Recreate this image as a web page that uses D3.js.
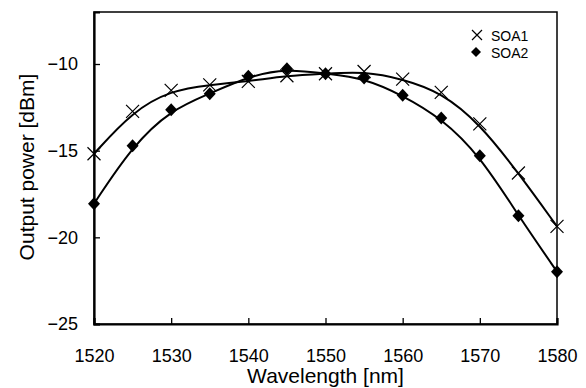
<!DOCTYPE html>
<html><head><meta charset="utf-8">
<script src="https://cdn.jsdelivr.net/npm/d3@7"></script>
<style>
html,body{margin:0;padding:0;background:#fff;}
text{font-family:"Liberation Sans",Arial,sans-serif;fill:#000;}
</style></head>
<body>
<svg id="chart" width="586" height="388"></svg>
<script>
const wavelengths = [1520,1525,1530,1535,1540,1545,1550,1555,1560,1565,1570,1575,1580];
const soa1 = [-15.18,-12.73,-11.52,-11.2,-11.0,-10.68,-10.56,-10.43,-10.87,-11.64,-13.45,-16.29,-19.37];
const soa2 = [-18.06,-14.71,-12.64,-11.71,-10.71,-10.27,-10.56,-10.81,-11.81,-13.12,-15.29,-18.75,-21.98];
const xTicks = [1520,1530,1540,1550,1560,1570,1580];
const yTicks = [-25,-20,-15,-10];
const seriesNames = ["SOA1","SOA2"];

const FONT = '"Liberation Sans",Arial,sans-serif';
const svg = d3.select("#chart");
const L=94, R=557, T=12, B=324;
const x = d3.scaleLinear().domain([1520,1580]).range([L,R]);
const y = d3.scaleLinear().domain([-25,-7]).range([B,T]);

// frame
svg.append("rect").attr("x",L).attr("y",T).attr("width",R-L).attr("height",B-T)
  .attr("fill","none").attr("stroke","#000").attr("stroke-width",1.5);

// axes
const xAxis = svg.append("g").attr("transform",`translate(0,${B})`)
  .call(d3.axisBottom(x).tickValues(xTicks).tickSize(-6).tickFormat(d3.format("d")));
const yAxis = svg.append("g").attr("transform",`translate(${L},0)`)
  .call(d3.axisLeft(y).tickValues(yTicks).tickSize(-6).tickFormat(d=>"\u2212"+Math.abs(d)));
[xAxis,yAxis].forEach(g=>{
  g.select(".domain").attr("stroke","#000").attr("stroke-width",2.2);
  g.selectAll(".tick line").attr("stroke","#000").attr("stroke-width",1.3);
  g.selectAll(".tick text").attr("font-size",18).attr("fill","#000").style("font-family",FONT);
});
xAxis.selectAll(".tick text").attr("dy","0.71em").attr("y",25);
yAxis.selectAll(".tick text").attr("x",-16);

// curves
const line = d3.line().x(d=>x(d[0])).y(d=>y(d[1])).curve(d3.curveBasis);
[soa1,soa2].forEach(s=>{
  svg.append("path").datum(wavelengths.map((w,i)=>[w,s[i]]))
    .attr("d",line).attr("fill","none").attr("stroke","#000").attr("stroke-width",2);
});

// markers
function cross(g,cx,cy,r){
  g.append("path").attr("d",`M${cx-r},${cy-r}L${cx+r},${cy+r}M${cx-r},${cy+r}L${cx+r},${cy-r}`)
   .attr("stroke","#000").attr("stroke-width",1.2).attr("fill","none");
}
function diamond(g,cx,cy,rx,ry){
  g.append("path").attr("d",`M${cx},${cy-ry}L${cx+rx},${cy}L${cx},${cy+ry}L${cx-rx},${cy}Z`).attr("fill","#000");
}
const mk = svg.append("g");
wavelengths.forEach((w,i)=>cross(mk,x(w),y(soa1[i]),6.5));
wavelengths.forEach((w,i)=>diamond(mk,x(w),y(soa2[i]),6,6.5));

// legend
const lg = svg.append("g");
cross(lg,477,35,5);
diamond(lg,476,52,5,5);
lg.append("text").attr("x",491).attr("y",41).attr("font-size",14).text(seriesNames[0]);
lg.append("text").attr("x",491).attr("y",58).attr("font-size",14).text(seriesNames[1]);

// axis titles
svg.append("text").attr("x",(L+R)/2).attr("y",383).attr("text-anchor","middle")
  .attr("font-size",21).text("Wavelength [nm]");
svg.append("text").attr("transform",`translate(34,167) rotate(-90)`).attr("text-anchor","middle")
  .attr("font-size",21).text("Output power [dBm]");
</script>
</body></html>
